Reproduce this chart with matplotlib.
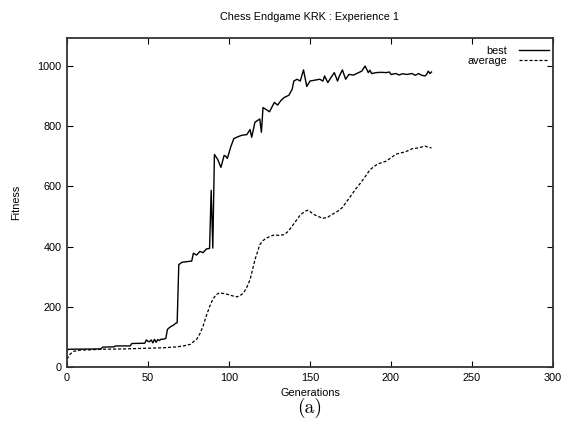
import matplotlib
matplotlib.use("Agg")
import matplotlib.pyplot as plt

best_gen = [0, 1, 21, 22, 29, 30, 39, 40, 48, 49, 50, 51, 52, 53, 54, 55, 56, 57, 58, 60,
            61, 62, 63, 64, 66, 67, 68, 69, 71, 74, 77, 78, 80, 82, 84, 86, 88, 89, 90, 91,
            93, 95, 97, 98, 99, 101, 103, 106, 108, 111, 113, 114, 116, 119, 120, 121, 123,
            125, 128, 130, 132, 134, 137, 139, 140, 142, 144, 146, 148, 150, 153, 156, 158,
            159, 161, 163, 165, 167, 168, 170, 172, 174, 177, 180, 182, 184, 186, 187, 188,
            191, 194, 197, 199, 200, 203, 205, 207, 210, 213, 215, 217, 219, 221, 222, 223,
            224, 225]
best_fit = [55, 59, 60, 66, 67, 70, 70, 78, 79, 90, 85, 84, 90, 80, 92, 82, 91, 88, 92, 93,
            95, 125, 130, 134, 140, 145, 147, 340, 348, 350, 352, 378, 372, 384, 380, 392, 394,
            587, 395, 706, 690, 663, 703, 700, 693, 730, 759, 766, 770, 772, 789, 763, 813,
            824, 780, 862, 855, 848, 879, 870, 885, 895, 903, 923, 950, 956, 950, 987, 932,
            950, 953, 956, 950, 967, 945, 962, 978, 950, 965, 987, 956, 972, 970, 978, 983,
            1000, 978, 986, 975, 978, 979, 978, 980, 972, 975, 970, 974, 972, 975, 969, 975,
            969, 967, 972, 983, 975, 980]

avg_gen = [0, 2, 4, 8, 14, 21, 35, 47, 60, 68, 72, 76, 80, 82, 84, 86, 88, 90, 92, 94, 97,
           100, 103, 105, 107, 109, 111, 113, 116, 119, 121, 123, 126, 128, 131, 134, 136,
           138, 141, 144, 147, 149, 151, 153, 156, 158, 161, 164, 167, 170, 172, 175, 178,
           181, 184, 187, 190, 192, 195, 197, 200, 203, 206, 209, 213, 217, 219, 221, 223, 225]
avg_fit = [26, 43, 52, 56, 57, 59, 60, 62, 64, 67, 70, 75, 92, 110, 136, 170, 200, 225, 240,
           246, 244, 240, 235, 233, 238, 246, 265, 290, 356, 406, 420, 428, 435, 439, 437,
           440, 448, 461, 483, 505, 518, 521, 512, 505, 498, 494, 498, 508, 517, 530, 545,
           567, 590, 610, 632, 655, 668, 675, 680, 684, 695, 707, 711, 715, 725, 728, 731,
           734, 730, 728]

x_ticks = [0, 50, 100, 150, 200, 250, 300]
y_ticks = [0, 200, 400, 600, 800, 1000]

plt.rcParams['font.family'] = ['Liberation Sans', 'DejaVu Sans']
plt.rcParams['lines.scale_dashes'] = False

fs = 7.8
fig = plt.figure(figsize=(5.64, 4.33), dpi=100)
ax = fig.add_axes([67/564, 66/433, (553-67)/564, (367-38)/433])

ax.plot(best_gen, best_fit, color='black', lw=1.0, label='best')
ax.plot(avg_gen, avg_fit, color='black', lw=0.9, linestyle=(0, (2.2, 1.4)), label='average')

ax.set_xlim(0, 300)
ax.set_ylim(0, 1093)
ax.set_xticks(x_ticks)
ax.set_yticks(y_ticks)
ax.tick_params(direction='in', length=4.5, width=0.8, labelsize=fs, top=True, right=True,
               colors='black', pad=4)
for s in ax.spines.values():
    s.set_linewidth(1.3)
    s.set_color('#333333')

ax.set_xlabel('Generations', fontsize=fs, labelpad=4)
ax.set_ylabel('Fitness', fontsize=fs, labelpad=12)
ax.set_title('Chess Endgame KRK : Experience 1', fontsize=fs, pad=13)

leg = ax.legend(loc='upper right', frameon=False, markerfirst=False, fontsize=fs,
                handlelength=2.8, handletextpad=1.1, labelspacing=0.0,
                borderaxespad=0.3, bbox_to_anchor=(1.008, 1.0))

fig.text(310/564, 1 - 408/433, '(a)', fontsize=14, fontname='cmr10',
         ha='center', va='center')

fig.savefig('out.png', dpi=100)
